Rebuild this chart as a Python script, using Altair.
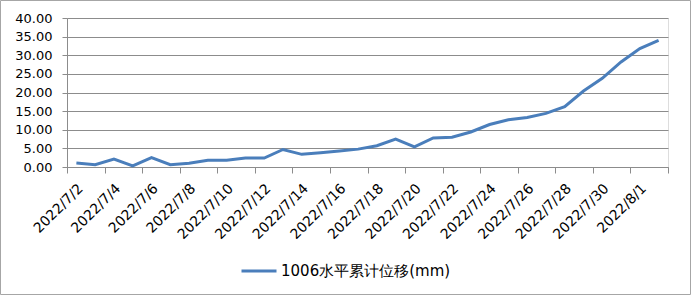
import json
import altair as alt
import pandas as pd

dates = ["2022/7/2", "2022/7/3", "2022/7/4", "2022/7/5", "2022/7/6", "2022/7/7",
         "2022/7/8", "2022/7/9", "2022/7/10", "2022/7/11", "2022/7/12", "2022/7/13",
         "2022/7/14", "2022/7/15", "2022/7/16", "2022/7/17", "2022/7/18", "2022/7/19",
         "2022/7/20", "2022/7/21", "2022/7/22", "2022/7/23", "2022/7/24", "2022/7/25",
         "2022/7/26", "2022/7/27", "2022/7/28", "2022/7/29", "2022/7/30", "2022/7/31",
         "2022/8/1", "2022/8/2"]
values = [1.1, 0.6, 2.1, 0.3, 2.5, 0.6, 1.0, 1.8, 1.8, 2.4, 2.4, 4.7, 3.4, 3.8, 4.3, 4.8,
          5.7, 7.5, 5.4, 7.8, 8.0, 9.4, 11.4, 12.7, 13.3, 14.4, 16.2, 20.4, 23.8, 28.2, 31.8, 34.0]
series_name = "1006水平累计位移(mm)"
y_ticks = [0, 5, 10, 15, 20, 25, 30, 35, 40]

df = pd.DataFrame({"idx": list(range(len(dates))), "date": dates, "value": values,
                   "series": [series_name] * len(dates)})

W, H = 601, 149
n = len(dates)
half_band = W / n / 2
tick_vals = [i - 0.5 for i in range(0, n + 1, 2)]
label_expr = f"{json.dumps(dates)}[datum.value + 0.5] || ''"

FONT = "DejaVu Sans"
GRAY = "#8c8c8c"
BLUE = "#4a7ebb"

line = alt.Chart(df).mark_line(strokeWidth=3, color=BLUE).encode(
    x=alt.X("idx:Q", scale=alt.Scale(domain=[-0.5, n - 0.5], nice=False, zero=False),
            axis=alt.Axis(values=tick_vals, labelExpr=label_expr, labelAngle=-45,
                          labelAlign="right", labelBaseline="middle",
                          labelOffset=half_band + 4, labelPadding=13,
                          grid=False, tickSize=6, tickColor=GRAY, domainColor=GRAY,
                          labelFont=FONT, labelFontSize=14, labelColor="#000000",
                          title=None, labelOverlap=False, labelBound=False,
                          labelFlush=False)),
    y=alt.Y("value:Q", scale=alt.Scale(domain=[0, 40], nice=False),
            axis=alt.Axis(values=y_ticks, format=".2f", grid=True, gridColor=GRAY,
                          tickSize=5, tickColor=GRAY, domainColor=GRAY,
                          labelFont=FONT, labelFontSize=13, labelColor="#000000",
                          labelPadding=10, title=None)),
    stroke=alt.Stroke("series:N", scale=alt.Scale(range=[BLUE]),
                      legend=alt.Legend(title=None, orient="none", legendX=173, legendY=234,
                                        symbolType="stroke", symbolSize=1225,
                                        symbolStrokeWidth=3, labelFont=FONT,
                                        labelFontSize=15, labelColor="#000000",
                                        labelOffset=3, labelLimit=0)),
)

border = alt.Chart(pd.DataFrame({"a": [0]})).mark_rect(
    fill=None, stroke="#a6a6a6", strokeWidth=1).encode(
    x=alt.value(-66.5), x2=alt.value(623.5), y=alt.value(-17.5), y2=alt.value(276.5))

chart = alt.layer(border, line).properties(
    width=W, height=H,
    autosize=alt.AutoSizeParams(type="none"),
    padding={"left": 67, "top": 18, "right": 23, "bottom": 128},
).configure_view(stroke=None).configure(background="white")

chart.save("out.html", embed_options={"renderer": "svg", "actions": False})
